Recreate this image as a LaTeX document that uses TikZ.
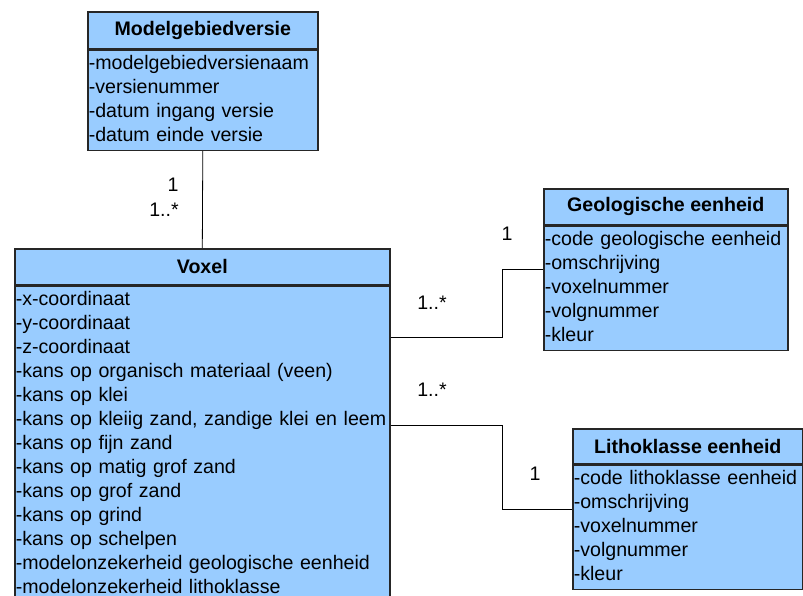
\documentclass[tikz,border=0pt]{standalone}
\usepackage{fontspec}
\setmainfont{Liberation Sans}
\usetikzlibrary{positioning}
\definecolor{classblue}{HTML}{99CCFF}
\newcommand{\umlfont}{\fontsize{19.6pt}{24pt}\selectfont}
\tikzset{
  classhead/.style={draw=black!85, line width=1.6pt, fill=classblue, anchor=north west,
    inner sep=0pt, font=\umlfont\bfseries},
  classbody/.style={draw=black!85, line width=1.6pt, fill=classblue, anchor=north west,
    align=left, inner xsep=1pt, inner ysep=2pt, font=\umlfont,
    execute at begin node=\strut, execute at end node=\strut},
  mult/.style={inner sep=0pt, font=\umlfont},
  assoc/.style={draw=black, line width=0.8pt}
}
\begin{document}
\begin{tikzpicture}[x=1pt, y=-1pt]
    \useasboundingbox (0,0) rectangle (803,596);
    \clip (0,0) rectangle (803,596);
    \node[classhead, minimum width=230pt, minimum height=37pt] (mgvhead) at (87,11) {Modelgebiedversie};
    \node[classbody, text width=228pt] (mgvbody) at (mgvhead.south west)
        {-modelgebiedversienaam\\-versienummer\\-datum ingang versie\\-datum einde versie};
    \node[classhead, minimum width=375pt, minimum height=36pt] (voxhead) at (14,248) {Voxel};
    \node[classbody, text width=373pt] (voxbody) at (voxhead.south west)
        {-x-coordinaat\\-y-coordinaat\\-z-coordinaat\\-kans op organisch materiaal (veen)\\
         -kans op klei\\-kans op kleiig zand, zandige klei en leem\\-kans op fijn zand\\
         -kans op matig grof zand\\-kans op grof zand\\-kans op grind\\-kans op schelpen\\
         -modelonzekerheid geologische eenheid\\-modelonzekerheid lithoklasse};
    \node[classhead, minimum width=244pt, minimum height=36pt] (geohead) at (543,188) {Geologische eenheid};
    \node[classbody, text width=242pt] (geobody) at (geohead.south west)
        {-code geologische eenheid\\-omschrijving\\-voxelnummer\\-volgnummer\\-kleur};
    \node[classhead, minimum width=230pt, minimum height=35pt] (lithohead) at (572,428) {Lithoklasse eenheid};
    \node[classbody, text width=228pt] (lithobody) at (lithohead.south west)
        {-code lithoklasse eenheid\\-omschrijving\\-voxelnummer\\-volgnummer\\-kleur};

    \draw[assoc] (mgvbody.south) -- (voxhead.north);
    \draw[assoc] (voxbody.north east) ++(0,52) -- ++(112,0) |- ([yshift=-44pt]geobody.north west);
    \draw[assoc] (voxbody.north east) ++(0,140) -- ++(112,0) |- ([yshift=-45pt]lithobody.north west);

    \node[mult] (mgvone) at (173,185) {1};
    \node[mult] (mgvmany) at (164,210) {1..*};
    \node[mult] (geoone) at (507,234) {1};
    \node[mult] (geomany) at (432,303) {1..*};
    \node[mult] (lithomany) at (432,390) {1..*};
    \node[mult] (lithoone) at (535,474) {1};
\end{tikzpicture}
\end{document}
